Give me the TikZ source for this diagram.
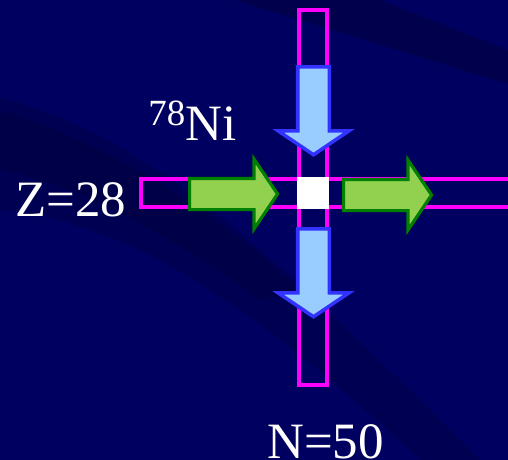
\documentclass[tikz,border=0pt]{standalone}
\usepackage{fontspec}
\setmainfont{Liberation Serif}
\usetikzlibrary{shapes.arrows,positioning}
\definecolor{navybg}{HTML}{000060}
\definecolor{streak}{HTML}{00003A}
\definecolor{barline}{HTML}{FF00FF}
\definecolor{nfill}{HTML}{99CCFF}
\definecolor{nline}{HTML}{3333FF}
\definecolor{zfill}{HTML}{92D050}
\definecolor{zline}{HTML}{008000}

\begin{document}
\begin{tikzpicture}[x=0.02cm,y=-0.02cm,
  bar/.style={draw=barline,line width=2.2pt,rectangle,inner sep=0pt},
  blockarrow/.style={single arrow,inner xsep=0pt,inner ysep=14*0.02cm,
    single arrow head extend=19.5*0.02cm,single arrow tip angle=112,
    minimum height=88*0.02cm,line width=2pt,anchor=tail},
  narrow/.style={blockarrow,draw=nline,fill=nfill,rotate=-90},
  zarrow/.style={blockarrow,draw=zline,fill=zfill,line width=1.8pt},
  axislabel/.style={text=white,inner sep=0pt,anchor=base west,
    font=\fontsize{29}{32}\selectfont}]
% background
\fill[navybg] (0,0) rectangle (508,460);
\fill[streak,opacity=0.5] (235,0) -- (508,84) -- (508,50) -- (380,0) -- cycle;
\fill[streak,opacity=0.35] (0,97) .. controls (150,140) and (250,230) .. (480,460)
  -- (420,460) .. controls (250,300) and (120,220) .. (0,210) -- cycle;
\fill[streak,opacity=0.35] (0,110) .. controls (100,140) and (200,200) .. (300,290)
  -- (260,300) .. controls (150,220) and (60,180) .. (0,170) -- cycle;
\useasboundingbox (0,0) rectangle (508,460);

% the two shells
\node[bar,minimum width=28*0.02cm,minimum height=375*0.02cm] (nshell) at (313,197.5) {};
\node[bar,minimum width=399*0.02cm,minimum height=28*0.02cm] (zshell) at (340.5,193) {};

% arrows along N and Z
\node[narrow] (ntop) at (313.5,65) {};
\node[narrow] (nbot) at (313.5,227) {};
\node[zarrow] (zleft) at (188,194) {};
\node[zarrow] (zright) at (342,195) {};

% doubly magic nucleus
\node[fill=white,minimum size=32*0.02cm,inner sep=0pt] (ni78) at (313,193) {};

\node[axislabel] (nilabel) at (148,140)
  {\raisebox{8.5pt}{\fontsize{21}{21}\selectfont 78}Ni};
\node[axislabel] (zlabel) at (15,216) {Z=28};
\node[axislabel] (nlabel) at (267,458) {N=50};
\end{tikzpicture}
\end{document}
